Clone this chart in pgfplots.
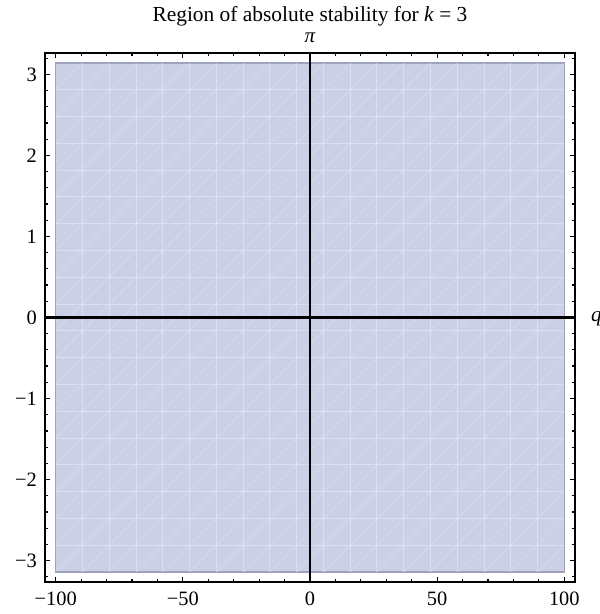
\documentclass[border=0pt]{standalone}
\usepackage{fontspec}
\setmainfont{Liberation Serif}
\usepackage{pgfplots}
\pgfplotsset{compat=1.18}
\definecolor{regfill}{RGB}{203,208,231}
\definecolor{regedge}{RGB}{158,162,188}
\begin{document}
\begin{tikzpicture}
\path[use as bounding box] (-22.5pt,-16pt) rectangle (277pt,291pt);
\begin{axis}[
  name=ax,
  scale only axis,
  width=265pt, height=264.5pt,
  at={(0,0)}, anchor=south west,
  xmin=-104.2, xmax=104.2,
  ymin=-3.265, ymax=3.265,
  axis line style={line width=0.9pt},
  every tick/.style={black, line width=0.6pt},
  major tick length=2.6pt,
  minor tick length=1.3pt,
  tick align=inside,
  xtick={-100,-50,0,50,100},
  xticklabels={−100,−50,0,50,100},
  minor xtick={-90,-80,-70,-60,-40,-30,-20,-10,10,20,30,40,60,70,80,90},
  ytick={-3,-2,-1,0,1,2,3},
  yticklabels={−3,−2,−1,0,1,2,3},
  minor ytick={-3.2,-2.8,-2.6,-2.4,-2.2,-1.8,-1.6,-1.4,-1.2,-0.8,-0.6,-0.4,-0.2,0.2,0.4,0.6,0.8,1.2,1.4,1.6,1.8,2.2,2.4,2.6,2.8,3.2},
  tick label style={font=\fontsize{10.2}{12}\selectfont},
  xticklabel style={yshift=-1.5pt},
  yticklabel style={xshift=-0.5pt},
  unbounded coords=jump,
  clip=true,
]
\addplot[fill=regfill, draw=regedge, line width=0.6pt] coordinates {(-100,-3.1416) (100,-3.1416) (100,3.1416) (-100,3.1416)} -- cycle;
% mesh: vertical lines
\pgfplotsinvokeforeach{-89.474,-78.947,-68.421,-57.895,-47.368,-36.842,-26.316,-15.789,-5.263,5.263,15.789,26.316,36.842,47.368,57.895,68.421,78.947,89.474}{
  \addplot[white, opacity=0.32, line width=0.45pt] coordinates {(#1,-3.1416) (#1,3.1416)};
}
% mesh: horizontal lines
\pgfplotsinvokeforeach{-2.8109,-2.4802,-2.1495,-1.8188,-1.4881,-1.1574,-0.8267,-0.4960,-0.1653,0.1653,0.4960,0.8267,1.1574,1.4881,1.8188,2.1495,2.4802,2.8109}{
  \addplot[white, opacity=0.32, line width=0.45pt] coordinates {(-100,#1) (100,#1)};
}
% mesh: diagonals
\addplot[white, opacity=0.24, line width=0.35pt] coordinates {
(-100,-3.1416) (100,3.1416) (0,nan)
(-89.474,-3.1416) (100,2.8109) (0,nan)
(-78.947,-3.1416) (100,2.4802) (0,nan)
(-68.421,-3.1416) (100,2.1495) (0,nan)
(-57.895,-3.1416) (100,1.8188) (0,nan)
(-47.368,-3.1416) (100,1.4881) (0,nan)
(-36.842,-3.1416) (100,1.1574) (0,nan)
(-26.316,-3.1416) (100,0.8267) (0,nan)
(-15.789,-3.1416) (100,0.4960) (0,nan)
(-5.263,-3.1416) (100,0.1653) (0,nan)
(5.263,-3.1416) (100,-0.1653) (0,nan)
(15.789,-3.1416) (100,-0.4960) (0,nan)
(26.316,-3.1416) (100,-0.8267) (0,nan)
(36.842,-3.1416) (100,-1.1574) (0,nan)
(47.368,-3.1416) (100,-1.4881) (0,nan)
(57.895,-3.1416) (100,-1.8188) (0,nan)
(68.421,-3.1416) (100,-2.1495) (0,nan)
(78.947,-3.1416) (100,-2.4802) (0,nan)
(89.474,-3.1416) (100,-2.8109) (0,nan)
(-100,-2.8109) (89.474,3.1416) (0,nan)
(-100,-2.4802) (78.947,3.1416) (0,nan)
(-100,-2.1495) (68.421,3.1416) (0,nan)
(-100,-1.8188) (57.895,3.1416) (0,nan)
(-100,-1.4881) (47.368,3.1416) (0,nan)
(-100,-1.1574) (36.842,3.1416) (0,nan)
(-100,-0.8267) (26.316,3.1416) (0,nan)
(-100,-0.4960) (15.789,3.1416) (0,nan)
(-100,-0.1653) (5.263,3.1416) (0,nan)
(-100,0.1653) (-5.263,3.1416) (0,nan)
(-100,0.4960) (-15.789,3.1416) (0,nan)
(-100,0.8267) (-26.316,3.1416) (0,nan)
(-100,1.1574) (-36.842,3.1416) (0,nan)
(-100,1.4881) (-47.368,3.1416) (0,nan)
(-100,1.8188) (-57.895,3.1416) (0,nan)
(-100,2.1495) (-68.421,3.1416) (0,nan)
(-100,2.4802) (-78.947,3.1416) (0,nan)
(-100,2.8109) (-89.474,3.1416)
};
% coordinate axes
\addplot[black, line width=1pt] coordinates {(0,-3.265) (0,3.265)};
\addplot[black, line width=1.1pt] coordinates {(-104.2,0) (104.2,0)};
\end{axis}
\node[anchor=base, font=\fontsize{10.7}{12}\selectfont] at ([yshift=15.5pt]ax.north) {Region of absolute stability for \textit{k} = 3};
\node[anchor=base, font=\fontsize{10.5}{12}\selectfont] at ([yshift=5pt]ax.north) {\textit{π}};
\node[anchor=base west, font=\fontsize{10.5}{12}\selectfont] at ([xshift=4.5pt, yshift=-1.8pt]ax.east) {\textit{q}};
\end{tikzpicture}
\end{document}
